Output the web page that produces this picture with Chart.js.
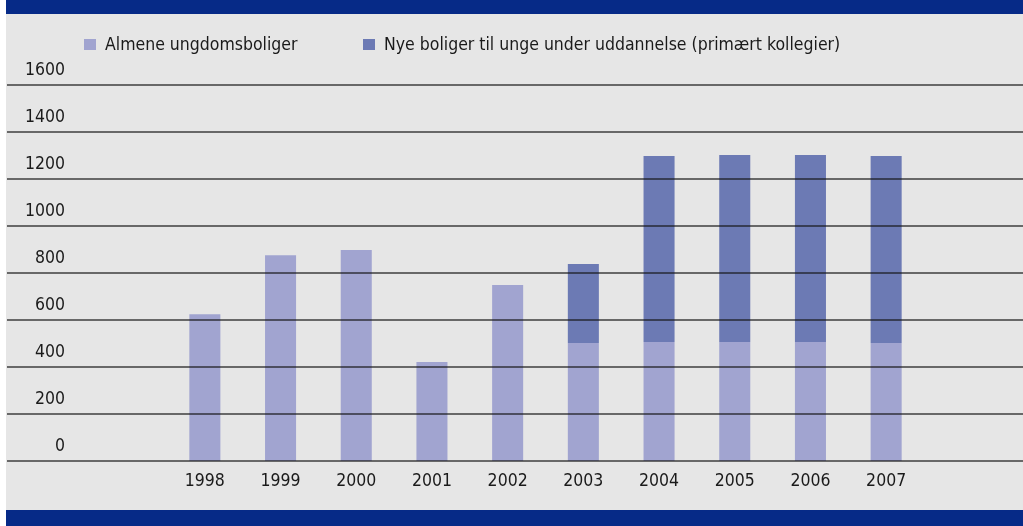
<!DOCTYPE html>
<html>
<head>
<meta charset="utf-8">
<script src="https://cdn.jsdelivr.net/npm/chart.js@4.4.1/dist/chart.umd.min.js"></script>
<style>
  body { margin: 0; background: #fff; }
  #wrap { position: relative; width: 1023px; height: 526px; }
  #chart { position: absolute; left: 0; top: 0; }
  .legend-item { position: absolute; top: 31px; height: 26px; display: flex; align-items: center;
    font-family: 'Liberation Sans Narrow', 'DejaVu Sans Condensed', sans-serif;
    font-size: 17.5px; color: #1a1a1a; white-space: nowrap; }
  .legend-box { width: 12px; height: 11px; margin-right: 9px; }
</style>
</head>
<body>
<div id="wrap">
  <canvas id="chart" width="1023" height="526"></canvas>
</div>
<script>
// data
const years = ['1998', '1999', '2000', '2001', '2002', '2003', '2004', '2005', '2006', '2007'];
const almene = [625, 876, 898, 421, 749, 502, 506, 506, 506, 502];
const nyeBoliger = [0, 0, 0, 0, 0, 336, 792, 796, 796, 796];
const seriesNames = ['Almene ungdomsboliger', 'Nye boliger til unge under uddannelse (primært kollegier)'];
const seriesColors = ['#a1a4d0', '#6c7ab4'];
const yTicks = [0, 200, 400, 600, 800, 1000, 1200, 1400, 1600];

const FONT = "'Liberation Sans Narrow', 'DejaVu Sans Condensed', sans-serif";

// Legend as html, built from the series arrays
const legendX = [84, 363];
seriesNames.forEach((name, i) => {
    const item = document.createElement('div');
    item.className = 'legend-item';
    item.style.left = legendX[i] + 'px';
    item.innerHTML = `<span class="legend-box" style="background:${seriesColors[i]}"></span>${name}`;
    document.getElementById('wrap').appendChild(item);
});

// background panel + blue bands
const backdrop = {
    id: 'backdrop',
    beforeDraw(chart) {
        const ctx = chart.ctx;
        ctx.save();
        ctx.fillStyle = '#e6e6e6';
        ctx.fillRect(6, 0, chart.width - 6, chart.height);
        ctx.fillStyle = '#062a87';
        ctx.fillRect(6, 0, chart.width - 6, 14);
        ctx.fillRect(6, 510, chart.width - 6, chart.height - 510);
        ctx.restore();
    }
};

// horizontal grid lines over the bars, running across the whole panel
const fullGrid = {
    id: 'fullGrid',
    afterDatasetsDraw(chart) {
        const ctx = chart.ctx;
        const y = chart.scales.y;
        ctx.save();
        ctx.strokeStyle = 'rgba(20,20,20,0.8)';
        ctx.lineWidth = 1.4;
        yTicks.forEach(v => {
            const py = Math.round(y.getPixelForValue(v));
            ctx.beginPath();
            ctx.moveTo(7, py);
            ctx.lineTo(chart.width, py);
            ctx.stroke();
        });
        ctx.restore();
    }
};

const ctx = document.getElementById('chart').getContext('2d');
const chart = new Chart(ctx, {
    type: 'bar',
    data: {
        labels: years,
        datasets: [
            { label: seriesNames[0], data: almene, backgroundColor: seriesColors[0] },
            { label: seriesNames[1], data: nyeBoliger, backgroundColor: seriesColors[1] }
        ]
    },
    options: {
        responsive: false,
        animation: false,
        barPercentage: 0.41,
        categoryPercentage: 1,
        layout: { padding: { top: 85, right: 99, bottom: 32, left: 0 } },
        plugins: {
            legend: { display: false },
            tooltip: { enabled: false }
        },
        scales: {
            x: {
                stacked: true,
                grid: { display: false },
                border: { display: false },
                ticks: { color: '#1a1a1a', font: { family: FONT, size: 17.5 }, padding: 2, maxRotation: 0 }
            },
            y: {
                stacked: true,
                min: 0,
                max: 1600,
                afterFit: scale => {
                    scale.width = 167;
                    scale.paddingTop = 0;   // big tick padding would otherwise shrink the plot
                    scale.paddingBottom = 0;
                },
                afterBuildTicks: scale => { scale.ticks = yTicks.map(v => ({ value: v })); },
                grid: { display: false },
                border: { display: false },
                ticks: {
                    color: '#1a1a1a',
                    font: { family: FONT, size: 17.5 },
                    padding: 94,
                    labelOffset: -15,
                    callback: v => String(v)
                }
            }
        }
    },
    plugins: [backdrop, fullGrid]
});
</script>
</body>
</html>
